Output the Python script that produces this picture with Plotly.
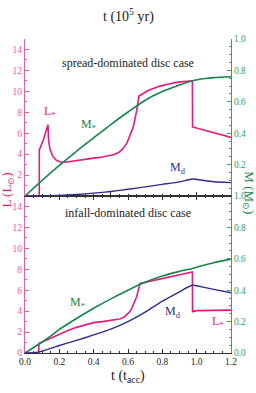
import plotly.graph_objects as go

# ---- data (t in units of t_acc) ----
# spread-dominated disc case (upper panel)
t_L_spread = [0.0, 0.083, 0.0835, 0.11, 0.134, 0.137, 0.145, 0.16, 0.18, 0.2, 0.223, 0.26, 0.3, 0.34, 0.4,
              0.45, 0.495, 0.52, 0.545, 0.57, 0.592, 0.61, 0.631, 0.651, 0.664, 0.72, 0.786, 0.85, 0.903, 0.975,
              0.976, 1.2]
L_spread = [0.0, 0.0, 4.4, 5.5, 6.8, 5.4, 4.5, 3.85, 3.45, 3.28, 3.2, 3.3, 3.42, 3.5, 3.62,
            3.72, 3.85, 3.97, 4.15, 4.5, 5.0, 5.7, 6.6, 8.2, 9.55, 10.1, 10.5, 10.75, 10.9, 11.0,
            6.6, 5.6]
t_M_spread = [0.0, 0.1, 0.2, 0.3, 0.4, 0.5, 0.6, 0.7, 0.8, 0.9, 0.975, 1.05, 1.1, 1.2]
Mstar_spread = [0.0, 0.1, 0.195, 0.285, 0.37, 0.455, 0.535, 0.61, 0.665, 0.707, 0.734, 0.748, 0.754, 0.76]
Mdisc_spread = [0.0, 0.001, 0.004, 0.01, 0.018, 0.029, 0.043, 0.058, 0.074, 0.09, 0.108, 0.097, 0.091, 0.085]

# infall-dominated disc case (lower panel)
t_L_infall = [0.0, 0.08, 0.081, 0.12, 0.16, 0.2, 0.25, 0.3, 0.35, 0.4, 0.45, 0.5, 0.55, 0.575, 0.592,
              0.608, 0.622, 0.636, 0.651, 0.67, 0.8, 0.9, 0.975, 0.976, 1.0, 1.2]
L_infall = [0.0, 0.0, 0.9, 1.2, 1.5, 1.8, 2.15, 2.45, 2.7, 2.9, 3.0, 3.1, 3.25, 3.4, 3.63,
            3.9, 4.27, 4.9, 5.4, 6.65, 7.1, 7.45, 7.75, 3.95, 4.05, 4.1]
t_M_infall = [0.0, 0.05, 0.1, 0.165, 0.2, 0.3, 0.4, 0.5, 0.6, 0.7, 0.8, 0.9, 0.975, 1.0, 1.1, 1.2]
Mstar_infall = [0.0, 0.035, 0.07, 0.12, 0.15, 0.22, 0.285, 0.345, 0.4, 0.45, 0.49, 0.52, 0.538, 0.546, 0.575, 0.598]
Mdisc_infall = [0.0, 0.002, 0.012, 0.035, 0.048, 0.08, 0.115, 0.152, 0.2, 0.26, 0.33, 0.39, 0.433, 0.428, 0.405, 0.384]

# tick labels
L_ticks_lower = [0, 2, 4, 6, 8, 10, 12, 14]
L_ticks_upper = [2, 4, 6, 8, 10, 12, 14]
M_ticks_lower = [0.0, 0.2, 0.4, 0.6, 0.8, 1.0]
M_ticks_upper = [0.2, 0.4, 0.6, 0.8, 1.0]
t_acc_ticks = [0, 0.2, 0.4, 0.6, 0.8, 1.0, 1.2]
t_yr_ticks = [0, 0.5, 1.0, 1.5, 2.0, 2.5, 3.0]

PINK = "#E8197D"
GREEN = "#15864A"
NAVY = "#2E2E8F"
PINK_T = "#EE5C97"
GREEN_T = "#3C9C62"
FONT = "Liberation Serif"

fig = go.Figure()
# upper panel
fig.add_trace(go.Scatter(x=t_L_spread, y=L_spread, xaxis="x2", yaxis="y2", mode="lines",
                         line=dict(color=PINK, width=1.6)))
fig.add_trace(go.Scatter(x=t_M_spread, y=Mstar_spread, xaxis="x2", yaxis="y4", mode="lines",
                         line=dict(color=GREEN, width=1.6, shape="spline", smoothing=0.6)))
fig.add_trace(go.Scatter(x=t_M_spread, y=Mdisc_spread, xaxis="x2", yaxis="y4", mode="lines",
                         line=dict(color=NAVY, width=1.4, shape="spline", smoothing=0.5)))
# lower panel
fig.add_trace(go.Scatter(x=t_L_infall, y=L_infall, xaxis="x", yaxis="y", mode="lines",
                         line=dict(color=PINK, width=1.6)))
fig.add_trace(go.Scatter(x=t_M_infall, y=Mstar_infall, xaxis="x", yaxis="y3", mode="lines",
                         line=dict(color=GREEN, width=1.6, shape="spline", smoothing=0.6)))
fig.add_trace(go.Scatter(x=t_M_infall, y=Mdisc_infall, xaxis="x", yaxis="y3", mode="lines",
                         line=dict(color=NAVY, width=1.4, shape="spline", smoothing=0.5)))

tickfont_black = dict(family=FONT, size=9.5, color="#222222")
common_x = dict(ticks="inside", ticklen=4, tickcolor="#333333", showline=True, linecolor="#333333",
                linewidth=1, showgrid=False, zeroline=False, automargin=False)


def y_common(color):
    return dict(tickfont=dict(family=FONT, size=9.5, color=color), ticks="inside", ticklen=4,
                tickcolor=color, showline=True, linecolor=color, showgrid=False, zeroline=False,
                automargin=False)


fig.update_layout(
    width=256, height=393,
    margin=dict(l=25, r=25, t=39, b=40, autoexpand=False),
    paper_bgcolor="white", plot_bgcolor="white",
    showlegend=False,
    font=dict(family=FONT),
    xaxis=dict(domain=[0, 1], anchor="y", range=[0, 1.2], tickvals=t_acc_ticks,
               tickformat=".1f", tickfont=tickfont_black, mirror="ticks",
               minor=dict(dtick=0.05, ticks="inside", ticklen=2, tickcolor="#333333"), **common_x),
    xaxis2=dict(domain=[0, 1], anchor="y2", range=[0, 1.2], matches="x", showticklabels=False,
                minor=dict(dtick=0.05, ticks="inside", ticklen=2, tickcolor="#333333"), **common_x),
    xaxis3=dict(overlaying="x2", anchor="y2", side="top", range=[0, 3.0],
                tickvals=t_yr_ticks, tickformat=".1f", tickfont=tickfont_black,
                minor=dict(dtick=0.1, ticks="inside", ticklen=2, tickcolor="#333333"), **common_x),
    yaxis=dict(domain=[0, 0.5], anchor="x", range=[0, 15], tickvals=L_ticks_lower,
               minor=dict(dtick=1, ticks="inside", ticklen=2, tickcolor=PINK_T), **y_common(PINK_T)),
    yaxis2=dict(domain=[0.5, 1], anchor="x2", range=[0, 15], tickvals=L_ticks_upper,
                minor=dict(dtick=1, ticks="inside", ticklen=2, tickcolor=PINK_T), **y_common(PINK_T)),
    yaxis3=dict(overlaying="y", anchor="x", side="right", range=[0, 1.0], tickvals=M_ticks_lower,
                tickformat=".1f", minor=dict(dtick=0.05, ticks="inside", ticklen=2, tickcolor=GREEN_T),
                **y_common(GREEN_T)),
    yaxis4=dict(overlaying="y2", anchor="x2", side="right", range=[0, 1.0], tickvals=M_ticks_upper,
                tickformat=".1f", minor=dict(dtick=0.05, ticks="inside", ticklen=2, tickcolor=GREEN_T),
                **y_common(GREEN_T)),
)


def label(text, xref, yref, x, y, color, size=12, angle=0):
    return dict(text=text, xref=xref, yref=yref, x=x, y=y, textangle=angle, showarrow=False,
                xanchor="center", yanchor="middle", font=dict(family=FONT, size=size, color=color))


ann = [
    # axis titles
    label("t (10<sup>5</sup> yr)", "paper", "paper", 0.5, 1.076, "#222222", size=14),
    label("t (t<sub>acc</sub>)", "paper", "paper", 0.5, -0.076, "#222222", size=14),
    label("L (L<sub>⊙</sub>)", "paper", "paper", -0.083, 0.52, PINK, size=13, angle=-90),
    label("M (M<sub>⊙</sub>)", "paper", "paper", 1.085, 0.51, GREEN, size=13, angle=90),
    # panel labels
    label("spread-dominated disc case", "x2", "y2", 0.6, 12.7, "#222222"),
    label("infall-dominated disc case", "x", "y", 0.6, 13.4, "#222222"),
    label("L<sub>*</sub>", "x2", "y2", 0.148, 8.0, PINK),
    label("M<sub>*</sub>", "x2", "y2", 0.37, 6.8, GREEN),
    label("M<sub>d</sub>", "x2", "y2", 0.893, 2.7, NAVY),
    label("M<sub>*</sub>", "x", "y", 0.305, 4.8, GREEN),
    label("M<sub>d</sub>", "x", "y", 0.865, 3.9, NAVY),
    label("L<sub>*</sub>", "x", "y", 1.125, 2.95, PINK),
]
fig.update_layout(annotations=ann)

fig.write_html("out.html", config={"displayModeBar": False},
               post_script="document.body.style.margin='0px';document.body.style.overflow='hidden';")
